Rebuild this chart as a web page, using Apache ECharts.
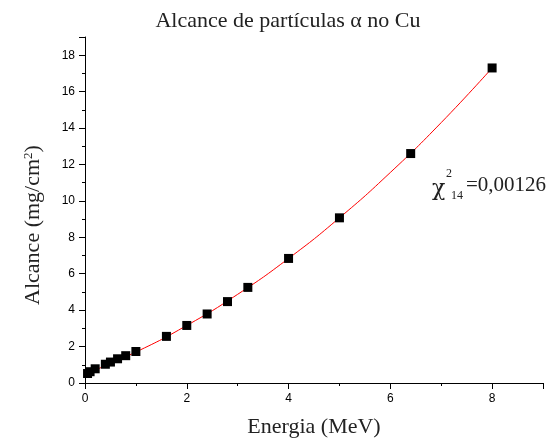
<!DOCTYPE html>
<html>
<head>
<meta charset="utf-8">
<script src="https://cdn.jsdelivr.net/npm/echarts@6/dist/echarts.min.js"></script>
<style>
  html, body { margin: 0; padding: 0; background: #fff; }
  #chart { width: 546px; height: 443px; }
</style>
</head>
<body>
<div id="chart"></div>
<script>
// energia (MeV) e alcance (mg/cm2)
const energia = [0.05, 0.1, 0.2, 0.4, 0.5, 0.64, 0.8, 1.0, 1.6, 2.0, 2.4, 2.8, 3.2, 4.0, 5.0, 6.4, 8.0];
const alcance = [0.52, 0.62, 0.78, 1.03, 1.15, 1.33, 1.5, 1.73, 2.56, 3.16, 3.79, 4.47, 5.25, 6.84, 9.07, 12.6, 17.3];
// curva de ajuste
const ajusteX = [0.07, 1, 2, 3, 4, 5, 6, 7, 8];
const ajusteY = [0.57, 1.70, 3.16, 4.87, 6.84, 9.07, 11.56, 14.3, 17.3];
const xTicks = [0, 2, 4, 6, 8];
const yTicks = [0, 2, 4, 6, 8, 10, 12, 14, 16, 18];

const serif = '"Liberation Serif", "DejaVu Serif", serif';
const sans = '"Liberation Sans", Arial, sans-serif';

const chart = echarts.init(document.getElementById('chart'));
chart.setOption({
    animation: false,
    backgroundColor: '#fff',
    title: {
        text: 'Alcance de partículas α no Cu',
        left: 283,
        top: 5,
        textAlign: 'center',
        textStyle: { fontFamily: serif, fontSize: 22, fontWeight: 'normal', color: '#222' },
    },
    grid: { left: 85, width: 463, top: 37, bottom: 60 },
    xAxis: {
        type: 'value',
        min: 0,
        max: 9,
        interval: 2,
        name: 'Energia (MeV)',
        nameLocation: 'middle',
        nameGap: 33,
        nameTextStyle: { fontFamily: serif, fontSize: 22, color: '#222' },
        axisLine: { lineStyle: { color: '#000', width: 1 } },
        axisTick: { length: 6, lineStyle: { color: '#000' } },
        minorTick: { show: true, splitNumber: 2, length: 3, lineStyle: { color: '#000' } },
        splitLine: { show: false },
        axisLabel: {
            margin: 10,
            fontFamily: sans,
            fontSize: 12,
            color: '#000',
            formatter: (v) => (xTicks.includes(v) ? String(v) : ''),
        },
    },
    yAxis: {
        type: 'value',
        min: 0,
        max: 19,
        interval: 2,
        name: 'Alcance (mg/cm{s|2})',
        nameLocation: 'middle',
        nameGap: 40,
        nameTextStyle: {
            fontFamily: serif,
            fontSize: 22,
            color: '#222',
            padding: [0, 30, 0, 0],
            rich: { s: { fontFamily: serif, fontSize: 13, color: '#222', verticalAlign: 'top', padding: [0, 0, 10, 0] } },
        },
        axisLine: { lineStyle: { color: '#000', width: 1 } },
        axisTick: { length: 6, lineStyle: { color: '#000' } },
        minorTick: { show: true, splitNumber: 2, length: 3, lineStyle: { color: '#000' } },
        splitLine: { show: false },
        axisLabel: {
            margin: 10,
            fontFamily: sans,
            fontSize: 12,
            color: '#000',
            formatter: (v) => (yTicks.includes(v) ? String(v) : ''),
        },
    },
    graphic: [
        { type: 'text', left: 432, top: 178, style: { text: 'χ', font: '22px "DejaVu Serif", serif', fill: '#222' } },
        { type: 'text', left: 446, top: 168, style: { text: '2', font: '12px ' + serif, fill: '#222' } },
        { type: 'text', left: 451, top: 190, style: { text: '14', font: '12px ' + serif, fill: '#222' } },
        { type: 'text', left: 466, top: 175, style: { text: '=0,00126', font: '21px ' + serif, fill: '#222' } },
    ],
    series: [
        {
            type: 'line',
            data: ajusteX.map((x, i) => [x, ajusteY[i]]),
            smooth: true,
            showSymbol: false,
            lineStyle: { color: '#ff0000', width: 1 },
            z: 2,
        },
        {
            type: 'scatter',
            data: energia.map((x, i) => [x, alcance[i]]),
            symbol: 'rect',
            symbolSize: 9,
            itemStyle: { color: '#000', opacity: 1 },
            z: 3,
        },
    ],
});
</script>
</body>
</html>
